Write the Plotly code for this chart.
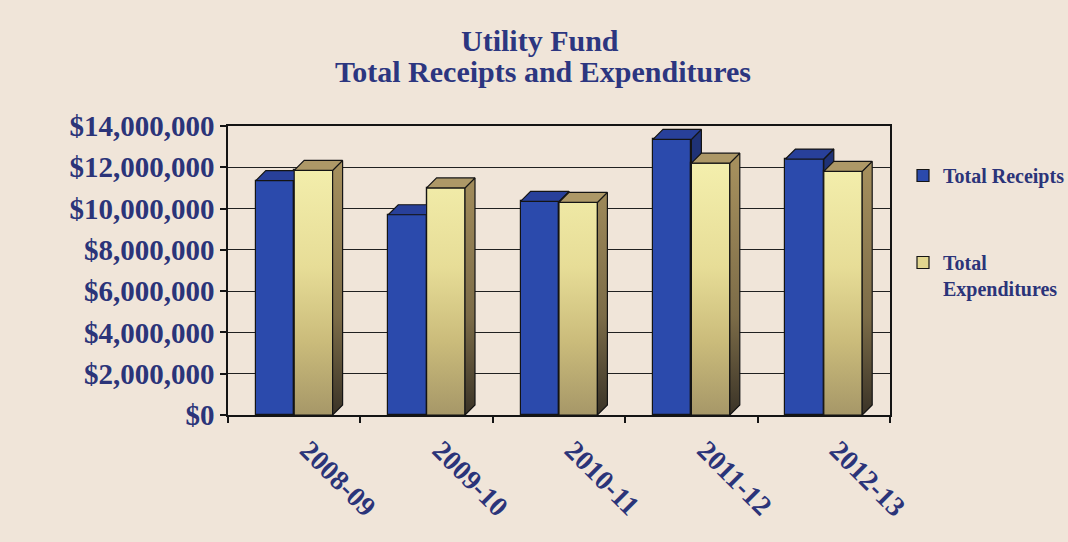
import plotly.graph_objects as go

# ---- data -----------------------------------------------------------------
periods = ["2008-09", "2009-10", "2010-11", "2011-12", "2012-13"]
total_receipts = [11_350_000, 9_700_000, 10_350_000, 13_350_000, 12_400_000]
total_expenditures = [11_850_000, 11_000_000, 10_300_000, 12_200_000, 11_800_000]
y_tick_values = [0, 2_000_000, 4_000_000, 6_000_000, 8_000_000, 10_000_000, 12_000_000, 14_000_000]

# ---- geometry -------------------------------------------------------------
W, H = 1068, 542
M_L, M_R, M_T, M_B = 228, 178, 126, 127
PLOT_W = W - M_L - M_R
PLOT_H = H - M_T - M_B
Y_MAX = 14_000_000
X_RANGE = [-0.5, len(periods) - 0.5]

BAR_W = 0.29          # width of one column in category units
DEPTH_PX = 10         # apparent depth of the 3-D columns, in pixels
DX = DEPTH_PX * (X_RANGE[1] - X_RANGE[0]) / PLOT_W
DY = DEPTH_PX * Y_MAX / PLOT_H

NAVY = "#2b3479"
SERIF = "Liberation Serif"
EDGE = dict(color="#141414", width=1.2)

x_pos = list(range(len(periods)))


def polys(builder, lefts, values):
    xs, ys = [], []
    for x0, v in zip(lefts, values):
        px, py = builder(x0, x0 + BAR_W, v)
        xs += px + [None]
        ys += py + [None]
    return xs, ys


def front_face(x0, x1, v):
    return [x0, x0, x1, x1, x0], [0, v, v, 0, 0]


def top_face(x0, x1, v):
    return [x0, x1, x1 + DX, x0 + DX, x0], [v, v, v + DY, v + DY, v]


def side_face(x0, x1, v):
    return [x1, x1, x1 + DX, x1 + DX, x1], [0, v, v + DY, DY, 0]


blue_left = [x - BAR_W for x in x_pos]
gold_left = list(x_pos)

fig = go.Figure()

# front faces as columns (these also provide the legend entries)
fig.add_trace(go.Bar(
    x=x_pos, y=total_receipts, name="Total Receipts",
    width=BAR_W, offset=-BAR_W, legendgroup="r",
    marker=dict(color="#2b4aac", line=EDGE),
))
fig.add_trace(go.Bar(
    x=x_pos, y=total_expenditures, name="Total<br>Expenditures",
    width=BAR_W, offset=0, legendgroup="e",
    marker=dict(color="#e2d68f", line=EDGE),
))

# depth of the receipts columns
bx, by = polys(side_face, blue_left, total_receipts)
fig.add_trace(go.Scatter(x=bx, y=by, mode="lines", fill="toself",
                         fillcolor="#1f3276", line=EDGE,
                         showlegend=False, hoverinfo="skip"))
bx, by = polys(top_face, blue_left, total_receipts)
fig.add_trace(go.Scatter(x=bx, y=by, mode="lines", fill="toself",
                         fillcolor="#28409a", line=EDGE,
                         showlegend=False, hoverinfo="skip"))

# shaded front of the expenditures columns
gx, gy = polys(front_face, gold_left, total_expenditures)
fig.add_trace(go.Scatter(
    x=gx, y=gy, mode="lines", fill="toself", line=EDGE,
    fillgradient=dict(type="vertical", start=0, stop=12_000_000,
                      colorscale=[[0, "#a69768"], [0.3, "#cbbc7b"],
                                  [0.6, "#e7dd97"], [1, "#f3eeac"]]),
    showlegend=False, hoverinfo="skip"))

# depth of the expenditures columns
gx, gy = polys(side_face, gold_left, total_expenditures)
fig.add_trace(go.Scatter(
    x=gx, y=gy, mode="lines", fill="toself", line=EDGE,
    fillgradient=dict(type="vertical", start=0, stop=12_000_000,
                      colorscale=[[0, "#3a3327"], [0.4, "#7c6c48"],
                                  [1, "#a58f5d"]]),
    showlegend=False, hoverinfo="skip"))
gx, gy = polys(top_face, gold_left, total_expenditures)
fig.add_trace(go.Scatter(x=gx, y=gy, mode="lines", fill="toself",
                         fillcolor="#ad9867", line=EDGE,
                         showlegend=False, hoverinfo="skip"))

# ---- titles ---------------------------------------------------------------
title_font = dict(family=SERIF, size=30, color="#2c3680", weight="bold")
fig.add_annotation(text="Utility Fund", x=(540 - M_L) / PLOT_W, y=(H - M_B - 41) / PLOT_H,
                   xref="paper", yref="paper", showarrow=False,
                   xanchor="center", yanchor="middle", font=title_font)
fig.add_annotation(text="Total Receipts and Expenditures", x=(543 - M_L) / PLOT_W,
                   y=(H - M_B - 71) / PLOT_H, xref="paper", yref="paper",
                   showarrow=False, xanchor="center", yanchor="middle", font=title_font)

fig.update_layout(
    width=W, height=H, autosize=False,
    margin=dict(l=M_L, r=M_R, t=M_T, b=M_B, pad=0, autoexpand=False),
    paper_bgcolor="#f0e5d9", plot_bgcolor="rgba(0,0,0,0)",
    barmode="overlay", bargap=0,
    showlegend=True,
    legend=dict(
        x=(903 - M_L) / PLOT_W, xanchor="left",
        y=(H - M_B - 156) / PLOT_H, yanchor="top",
        traceorder="grouped", tracegroupgap=58, valign="top",
        bgcolor="rgba(0,0,0,0)",
        font=dict(family=SERIF, size=20, color=NAVY, weight="bold"),
    ),
    xaxis=dict(
        range=X_RANGE, tickmode="array", tickvals=x_pos, ticktext=periods,
        ticks="", tickangle=45, showgrid=False, zeroline=False,
        ticklabelshift=14, ticklabelstandoff=6,
        showline=True, linecolor="#141414", linewidth=1.5, mirror=True,
        tickfont=dict(family=SERIF, size=28, color=NAVY, weight="bold"),
        minor=dict(tickmode="linear", tick0=-0.5, dtick=1, ticks="outside",
                   ticklen=6, tickcolor="#141414", tickwidth=1.5, showgrid=False),
    ),
    yaxis=dict(
        range=[0, Y_MAX], tickmode="array", tickvals=y_tick_values,
        tickformat="$,.0f", ticks="outside", ticklen=6, tickcolor="#141414",
        tickwidth=1.5, showline=True, linecolor="#141414", linewidth=1.5,
        mirror=True, showgrid=True, gridcolor="#202020", gridwidth=1.4,
        zeroline=False,
        tickfont=dict(family=SERIF, size=29, color=NAVY, weight="bold"),
    ),
)

fig.write_html("out.html")
